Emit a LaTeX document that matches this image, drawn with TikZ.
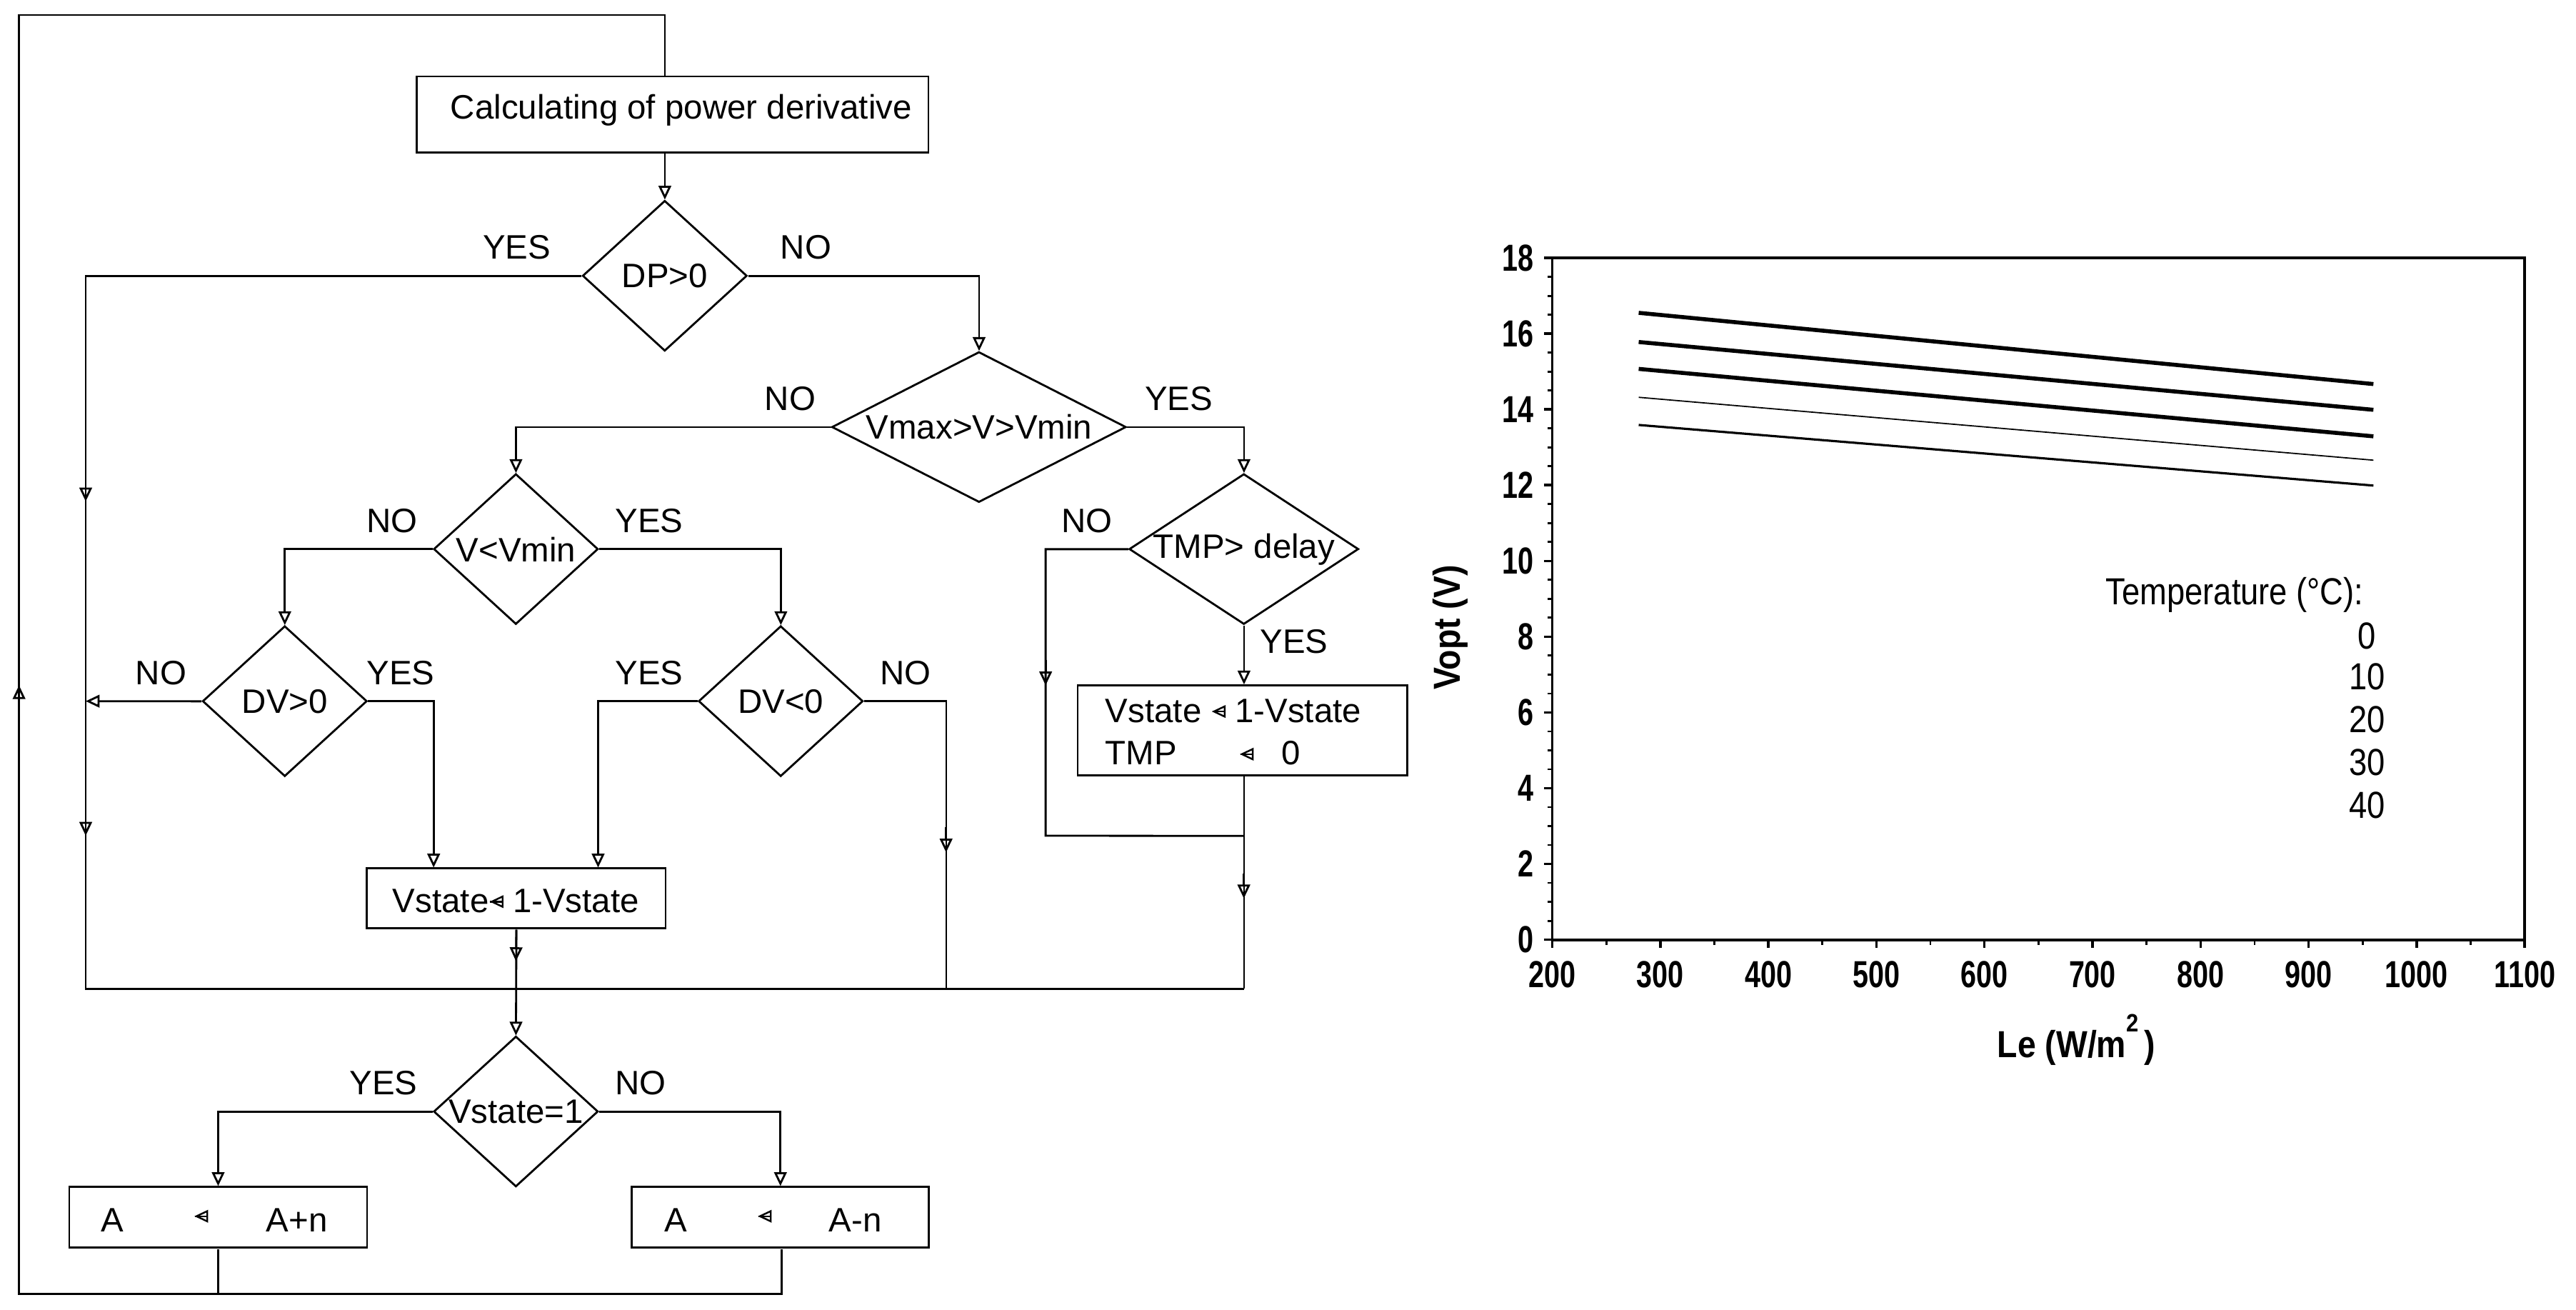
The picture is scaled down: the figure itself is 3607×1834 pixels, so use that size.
\documentclass[tikz,border=0pt]{standalone}
\usepackage{fontspec}
\setmainfont{Liberation Sans}
\usetikzlibrary{arrows.meta,shapes.geometric}
\def\u{0.02424cm}
\def\w{0.0234cm}
\newcommand\opena{\tikz[baseline=-0.6ex]\draw[line width=1.4pt,{Triangle[open,length=11pt,width=10pt]}-] (0,0)--(0.75,0);}
\begin{document}
\begin{tikzpicture}[x=0.02cm,y=-0.02cm,line width=1.6pt,
  box/.style={draw,rectangle,inner sep=0},
  dia/.style={draw,diamond,inner sep=0,minimum width=190*\u,minimum height=180*\w},
  tip/.style={-{Triangle[open,length=11pt,width=10pt]}},
  tk/.style={font=\bfseries\fontsize{30}{36}\selectfont},
  lg/.style={font=\fontsize{30}{36}\selectfont}]
\useasboundingbox (0,0) rectangle (3607,1834);
\fill[white] (0,0) rectangle (3607,1834);
\begin{scope}[xscale=1.212,yscale=1.17,every node/.style={font=\fontsize{27}{34}\selectfont}]
% nodes
\node[box,minimum width=591*\u,minimum height=91*\w] (calc) at (777,137) {};
\node at (787,132) {Calculating of power derivative};
\node[dia,label={[anchor=center]center:DP>0}] (dp) at (768,330) {};
\node[dia,minimum width=340*\u,label={[anchor=center]center:Vmax>V>Vmin}] (vm) at (1131,511) {};
\node[dia,label={[anchor=center]center:V<Vmin}] (vv) at (596,657) {};
\node[dia,minimum width=265*\u,label={[anchor=center]center:TMP> delay}] (tmp) at (1437,657) {};
\node[dia,label={[anchor=center]center:DV>0}] (dvp) at (329,839) {};
\node[dia,label={[anchor=center]center:DV<0}] (dvn) at (902,839) {};
\node[box,minimum width=345*\u,minimum height=72*\w] (vs) at (596.5,1075) {};
\node at (596,1078) {Vstate\opena\ 1-Vstate};
\node[box,minimum width=381*\u,minimum height=108*\w] (vt) at (1435.5,874) {};
\node[anchor=west,align=left] at (1272,876) {Vstate \opena\ 1-Vstate\\TMP \hspace{1.55em}\opena\ \ \ 0};
\node[dia,label={[anchor=center]center:Vstate=1}] (v1) at (596,1330) {};
\node[box,minimum width=344*\u,minimum height=73*\w] (ap) at (252,1456.5) {};
\node[box,minimum width=343*\u,minimum height=73*\w] (am) at (901.5,1456.5) {};
\node at (130,1460) {A}; \node at (232,1458) {\opena}; \node at (343,1460) {A+n};
\node at (781,1460) {A}; \node at (883,1458) {\opena}; \node at (988,1460) {A-n};
% labels
\node at (597,296) {YES}; \node at (931,296) {NO};
\node at (913,477) {NO}; \node at (1362,477) {YES};
\node at (453,623) {NO}; \node at (750,623) {YES};
\node at (1256,623) {NO}; \node at (1495,768) {YES};
\node at (186,805) {NO}; \node at (463,805) {YES};
\node at (750,805) {YES}; \node at (1046,805) {NO};
\node at (443,1296) {YES}; \node at (740,1296) {NO};
% coordinates
\coordinate (top) at (768,18); \coordinate (tl) at (22,18); \coordinate (bl) at (22,1548);
\coordinate (br) at (903,1548); \coordinate (apb) at (252,1548);
\coordinate (busL) at (99,1183); \coordinate (busR) at (1437,1183); \coordinate (bus2) at (1093,1183);
\coordinate (jn) at (1437,1000);
% connectors
\draw (calc.north -| top) -- (top) -- (tl) -- (bl) -- (br) -- (am.south -| br);
\draw (apb) -- (ap.south);
\draw[tip] (22,850) -- (22,820);
\draw[tip] (calc.south -| dp.north) -- (dp.north);
\draw (dp.west) -| (busL) -- (busR);
\draw[tip] (99,570) -- (99,600); \draw[tip] (99,970) -- (99,1000);
\draw[tip] (dp.east) -| (vm.north);
\draw[tip] (vm.west) -| (vv.north);
\draw[tip] (vm.east) -| (tmp.north);
\draw[tip] (vv.west) -| (dvp.north);
\draw[tip] (vv.east) -| (dvn.north);
\draw[tip] (dvp.west) -- (99,839);
\draw[tip] (dvp.east) -| (vs.north -| 501,0);
\draw[tip] (dvn.west) -| (vs.north -| 691,0);
\draw (dvn.east) -| (bus2);
\draw[tip] (1093,990) -- (1093,1020);
\draw (tmp.west) -| (1208,1000) -- (jn);
\draw[tip] (1208,790) -- (1208,820);
\draw[tip] (tmp.south) -- (vt.north -| tmp.south);
\draw (vt.south -| busR) -- (busR);
\draw[tip] (1437,1045) -- (1437,1075);
\draw[tip] (vs.south) -- (596,1150);
\draw[tip] (vs.south) -- (v1.north);
\draw[tip] (v1.west) -| (ap.north);
\draw[tip] (v1.east) -| (am.north);
\end{scope}
% chart (display coordinates)
\begin{scope}[scale=2.3]
\def\X#1{{945+(#1-200)*0.65778}}
\def\Y#1{{572-(#1)*23.056}}
\draw[line width=2.2pt] (945,157) rectangle (1537,572);
\foreach \v in {0,2,...,18} {\draw[line width=2pt] (945,\Y{\v}) -- (940,\Y{\v});
  \node[tk,anchor=east] at (937,\Y{\v}) {\scalebox{0.75}[1]{\v}};}
\foreach \v in {0.5,1,...,17.5} {\draw[line width=1.6pt] (945,\Y{\v}) -- (942,\Y{\v});}
\foreach \v in {200,300,...,1100} {\draw[line width=2pt] (\X{\v},572) -- (\X{\v},577);
  \node[tk,anchor=north] at (\X{\v},582) {\scalebox{0.75}[1]{\v}};}
\foreach \v in {250,350,...,1050} {\draw[line width=1.6pt] (\X{\v},572) -- (\X{\v},575);}
\node[tk,rotate=90] at (883,382) {\scalebox{0.88}[1]{Vopt (V)}};
\node[tk] at (1264,633) {\scalebox{0.88}[1]{Le (W/m\raisebox{1.3ex}{\fontsize{20}{24}\selectfont 2}\,)}};
\draw[line width=3.2pt] (\X{280},\Y{16.55}) -- (\X{960},\Y{14.67});
\draw[line width=3.2pt] (\X{280},\Y{15.78}) -- (\X{960},\Y{13.99});
\draw[line width=3.2pt] (\X{280},\Y{15.07}) -- (\X{960},\Y{13.29});
\draw[line width=1.0pt] (\X{280},\Y{14.32}) -- (\X{960},\Y{12.66});
\draw[line width=1.8pt] (\X{280},\Y{13.59}) -- (\X{960},\Y{11.99});
\node[lg,anchor=east] at (1442,362) {\scalebox{0.86}[1]{Temperature (°C):}};
\foreach \t/\y in {0/387,10/412,20/438,30/464,40/490}
  \node[lg] at (1441,\y) {\scalebox{0.86}[1]{\t}};
\end{scope}
\end{tikzpicture}
\end{document}
